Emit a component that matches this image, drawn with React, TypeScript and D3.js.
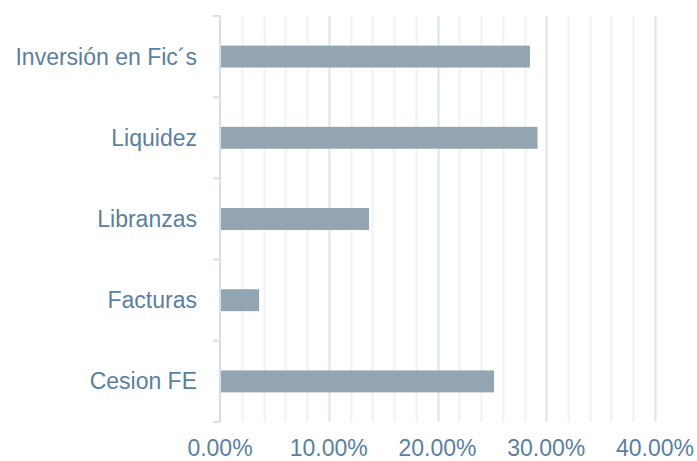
import React, { useRef, useEffect } from 'react';
import * as d3 from 'd3';

const categories = ['Inversión en Fic´s', 'Liquidez', 'Libranzas', 'Facturas', 'Cesion FE'];
const values = [0.285, 0.292, 0.137, 0.036, 0.252];
const majorTicks = [0, 0.1, 0.2, 0.3, 0.4];

const App: React.FC = () => {
  const svgRef = useRef<SVGSVGElement | null>(null);

  useEffect(() => {
    const svg = d3.select(svgRef.current);
    svg.selectAll('*').remove();

    const left = 220;
    const right = 655;
    const top = 16;
    const bottom = 422;
    const textColor = '#5a7fa3';
    const font = 'Liberation Sans, Arial, sans-serif';

    const x = d3.scaleLinear().domain([0, 0.4]).range([left, right]);
    const y = d3.scaleBand().domain(categories).range([top, bottom]);

    // minor gridlines
    const minor = d3.range(0, 41, 2).map(d => d / 100).filter(d => !majorTicks.some(m => Math.abs(m - d) < 1e-9));
    svg.append('g')
      .selectAll('line')
      .data(minor)
      .enter()
      .append('line')
      .attr('x1', d => Math.round(x(d)) + 0.5)
      .attr('x2', d => Math.round(x(d)) + 0.5)
      .attr('y1', top)
      .attr('y2', bottom)
      .attr('stroke', '#eef2f7')
      .attr('stroke-width', 2);

    // major gridlines
    svg.append('g')
      .selectAll('line')
      .data(majorTicks.slice(1))
      .enter()
      .append('line')
      .attr('x1', d => Math.round(x(d)) + 0.5)
      .attr('x2', d => Math.round(x(d)) + 0.5)
      .attr('y1', top)
      .attr('y2', bottom)
      .attr('stroke', '#dce4ee')
      .attr('stroke-width', 2);

    // y axis line + ticks
    const axisColor = '#d6dfe9';
    svg.append('line')
      .attr('x1', left).attr('x2', left)
      .attr('y1', top).attr('y2', bottom)
      .attr('stroke', axisColor).attr('stroke-width', 2);
    const bounds = categories.map(c => y(c) as number).concat([bottom]);
    svg.append('g')
      .selectAll('line')
      .data(bounds)
      .enter()
      .append('line')
      .attr('x1', left - 7)
      .attr('x2', left)
      .attr('y1', d => d)
      .attr('y2', d => d)
      .attr('stroke', axisColor)
      .attr('stroke-width', 2);

    // bars
    const barH = y.bandwidth() * 0.27;
    svg.append('g')
      .selectAll('rect')
      .data(values)
      .enter()
      .append('rect')
      .attr('x', left + 1)
      .attr('y', (_, i) => (y(categories[i]) as number) + y.bandwidth() / 2 - barH / 2)
      .attr('width', d => x(d) - left - 1)
      .attr('height', barH)
      .attr('fill', '#93a5b0');

    // category labels
    svg.append('g')
      .selectAll('text')
      .data(categories)
      .enter()
      .append('text')
      .attr('x', 197)
      .attr('y', d => (y(d) as number) + y.bandwidth() / 2)
      .attr('dy', '0.35em')
      .attr('text-anchor', 'end')
      .attr('font-family', font)
      .attr('font-size', 23)
      .attr('fill', textColor)
      .text(d => d);

    // x tick labels
    svg.append('g')
      .selectAll('text')
      .data(majorTicks)
      .enter()
      .append('text')
      .attr('x', d => x(d))
      .attr('y', 456)
      .attr('text-anchor', 'middle')
      .attr('font-family', font)
      .attr('font-size', 23)
      .attr('fill', textColor)
      .text(d => d3.format('.2%')(d));
  }, []);

  return (
    <svg ref={svgRef} width={697} height={461}
      style={{ position: 'absolute', left: 0, top: 0, background: '#fff' }} />
  );
};

export default App;
